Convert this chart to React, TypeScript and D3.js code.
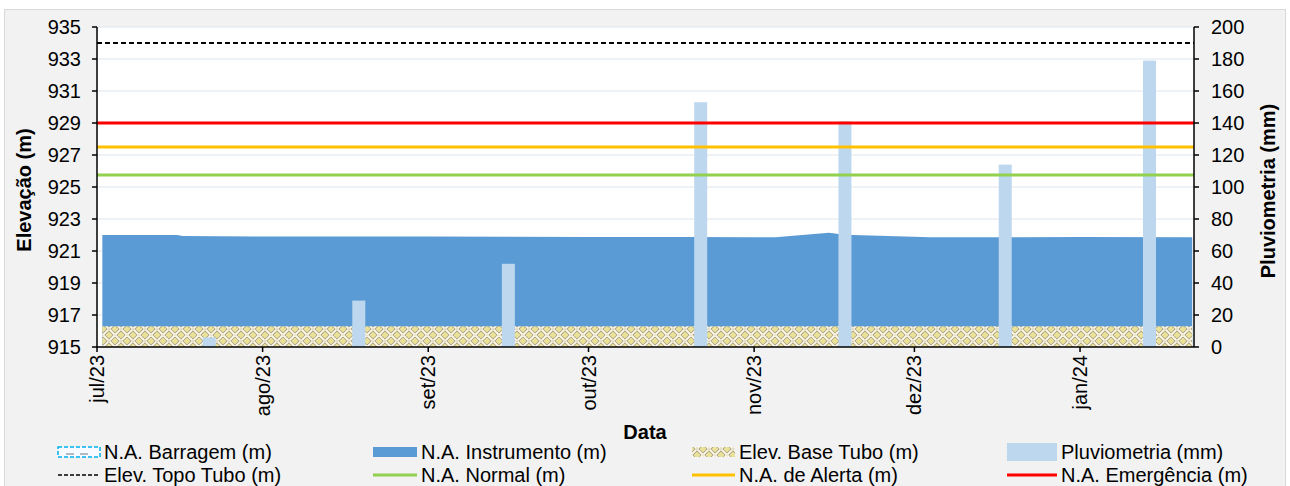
import * as d3 from "d3";
import React from "react";

// N.A. Instrumento readings (m)
const instDates = [
  "2023-07-02", "2023-07-16", "2023-07-17", "2023-08-01", "2023-09-01",
  "2023-10-01", "2023-10-20", "2023-11-01", "2023-11-05", "2023-11-15",
  "2023-11-18", "2023-12-04", "2023-12-20", "2024-01-01", "2024-01-22",
];
const instLevels = [
  922.0, 922.0, 921.93, 921.91, 921.9,
  921.88, 921.87, 921.86, 921.86, 922.14,
  922.02, 921.86, 921.86, 921.87, 921.86,
];

// Pluviometria (mm)
const rainDates = [
  "2023-07-22", "2023-08-19", "2023-09-16", "2023-10-22",
  "2023-11-18", "2023-12-18", "2024-01-14",
];
const rainValues = [6, 29, 52, 153, 141, 114, 179];

const baseTubo = 916.3;
const topoTubo = 934.0;
const naNormal = 925.75;
const naAlerta = 927.5;
const naEmergencia = 929.0;

const monthLabels = ["jul/23", "ago/23", "set/23", "out/23", "nov/23", "dez/23", "jan/24"];

const parse = d3.timeParse("%Y-%m-%d");
const font = "'Liberation Sans', Arial, sans-serif";
const fs = 20;

const App: React.FC = () => {
  const left = 97, right = 1194, top = 27, bottom = 347;

  const x = d3
    .scaleTime()
    .domain([new Date(2023, 6, 1), new Date(2024, 0, 22, 8)])
    .range([left, right]);
  const yL = d3.scaleLinear().domain([915, 935]).range([bottom, top]);
  const yR = d3.scaleLinear().domain([0, 200]).range([bottom, top]);

  const inst = instDates.map((d, i) => ({ date: parse(d) as Date, value: instLevels[i] }));
  const rain = rainDates.map((d, i) => ({ date: parse(d) as Date, value: rainValues[i] }));

  const area = d3
    .area<{ date: Date; value: number }>()
    .x((d) => x(d.date))
    .y0(yL(915))
    .y1((d) => yL(d.value));

  const baseData = [inst[0], inst[inst.length - 1]].map((d) => ({ date: d.date, value: baseTubo }));

  const leftTicks = d3.range(915, 936, 2);
  const rightTicks = d3.range(0, 201, 20);
  const months = d3.timeMonth.range(new Date(2023, 6, 1), new Date(2024, 0, 22));
  const barW = 13;

  const refLines = [
    { v: topoTubo, color: "#000", w: 2, dash: "5,3" },
    { v: naNormal, color: "#92d050", w: 3, dash: null },
    { v: naAlerta, color: "#ffc000", w: 3, dash: null },
    { v: naEmergencia, color: "#ff0000", w: 3, dash: null },
  ];

  const colX = [58, 373, 692, 1007];
  const symW = [42, 44, 43, 50];
  const rowY = [452, 475];
  const legend = [
    { label: "N.A. Barragem (m)", col: 0, row: 0, kind: "dashbox" },
    { label: "N.A. Instrumento (m)", col: 1, row: 0, kind: "rect", color: "#5b9bd5" },
    { label: "Elev. Base Tubo (m)", col: 2, row: 0, kind: "weave" },
    { label: "Pluviometria (mm)", col: 3, row: 0, kind: "tallrect", color: "#bdd7ee" },
    { label: "Elev. Topo Tubo (m)", col: 0, row: 1, kind: "line", color: "#000", dash: "4,2" },
    { label: "N.A. Normal (m)", col: 1, row: 1, kind: "line", color: "#92d050" },
    { label: "N.A. de Alerta (m)", col: 2, row: 1, kind: "line", color: "#ffc000" },
    { label: "N.A. Emergência (m)", col: 3, row: 1, kind: "line", color: "#ff0000" },
  ];

  return (
    <svg
      width={1290}
      height={486}
      style={{ position: "absolute", left: 0, top: 0, fontFamily: font }}
    >
      <defs>
        <pattern id="weave" width="12" height="12" patternUnits="userSpaceOnUse" x={left} y={bottom}>
          <rect width="12" height="12" fill="#ebe29a" />
          <g stroke="#a99d82" strokeWidth="3.4" strokeLinecap="square">
            <path d="M1,5 L5,1 M7,1 L11,5 M1,7 L5,11 M7,11 L11,7" />
          </g>
          <g stroke="#fffbea" strokeWidth="1.8" strokeLinecap="square">
            <path d="M1,5 L5,1 M7,1 L11,5 M1,7 L5,11 M7,11 L11,7" />
          </g>
        </pattern>
      </defs>

      <rect x={0} y={0} width={1290} height={486} fill="#fff" />
      <rect x={4.5} y={9.5} width={1281} height={490} fill="#f2f2f2" stroke="#d9d9d9" />
      <rect x={left} y={top} width={right - left} height={bottom - top} fill="#fff" />

      {/* gridlines */}
      {leftTicks.map((t) => (
        <line key={t} x1={left} x2={right} y1={yL(t)} y2={yL(t)} stroke="#dce6f0" strokeWidth={1} />
      ))}

      {/* N.A. Instrumento */}
      <path d={area(inst) || ""} fill="#5b9bd5" />
      {/* Elev. Base Tubo */}
      <path d={area(baseData) || ""} fill="url(#weave)" />

      {/* Pluviometria */}
      {rain.map((d, i) => (
        <rect
          key={i}
          x={x(d.date) - barW / 2}
          y={yR(d.value)}
          width={barW}
          height={yR(0) - yR(d.value)}
          fill="#bdd7ee"
        />
      ))}

      {/* reference lines */}
      {refLines.map((l, i) => (
        <line
          key={i}
          x1={left}
          x2={right}
          y1={yL(l.v)}
          y2={yL(l.v)}
          stroke={l.color}
          strokeWidth={l.w}
          strokeDasharray={l.dash || undefined}
        />
      ))}

      {/* axes */}
      <line x1={left} x2={left} y1={top} y2={bottom} stroke="#000" strokeWidth={1.5} />
      <line x1={right} x2={right} y1={top} y2={bottom} stroke="#000" strokeWidth={1.5} />
      <line x1={left} x2={right} y1={bottom} y2={bottom} stroke="#000" strokeWidth={1.5} />

      {leftTicks.map((t) => (
        <g key={t}>
          <line x1={left - 5} x2={left} y1={yL(t)} y2={yL(t)} stroke="#000" strokeWidth={1.5} />
          <text x={81} y={yL(t)} dy="0.35em" textAnchor="end" fontSize={fs} fill="#000">
            {t}
          </text>
        </g>
      ))}
      {rightTicks.map((t) => (
        <g key={t}>
          <line x1={right} x2={right + 5} y1={yR(t)} y2={yR(t)} stroke="#000" strokeWidth={1.5} />
          <text x={1211} y={yR(t)} dy="0.35em" textAnchor="start" fontSize={fs} fill="#000">
            {t}
          </text>
        </g>
      ))}
      {months.map((m, i) => (
        <g key={i}>
          <line x1={x(m)} x2={x(m)} y1={bottom} y2={bottom + 5} stroke="#000" strokeWidth={1.5} />
          <text
            transform={`translate(${x(m)},${bottom + 8}) rotate(-90)`}
            dy="0.35em"
            textAnchor="end"
            fontSize={fs}
            fill="#000"
          >
            {monthLabels[i]}
          </text>
        </g>
      ))}

      {/* axis titles */}
      <text
        transform={`translate(24,${(top + bottom) / 2 + 3}) rotate(-90)`}
        dy="0.35em"
        textAnchor="middle"
        fontSize={fs}
        fontWeight="bold"
      >
        Elevação (m)
      </text>
      <text
        transform={`translate(1268,${(top + bottom) / 2 + 4}) rotate(-90)`}
        dy="0.35em"
        textAnchor="middle"
        fontSize={fs}
        fontWeight="bold"
      >
        Pluviometria (mm)
      </text>
      <text x={645} y={432} dy="0.35em" textAnchor="middle" fontSize={fs} fontWeight="bold">
        Data
      </text>

      {/* legend */}
      {legend.map((item, i) => {
        const sx = colX[item.col];
        const sw = symW[item.col];
        const cy = rowY[item.row];
        let sym: React.ReactNode = null;
        if (item.kind === "dashbox") {
          sym = (
            <g>
              <rect x={sx} y={cy - 5} width={sw} height={10} fill="#f7fbff" stroke="#00b0f0" strokeWidth={1.5} strokeDasharray="4,2" />
              <line x1={sx + 8} x2={sx + sw - 6} y1={cy + 2} y2={cy + 2} stroke="#9aa5b0" strokeWidth={1.5} strokeDasharray="8,6" />
            </g>
          );
        } else if (item.kind === "rect") {
          sym = <rect x={sx} y={cy - 5} width={sw} height={10} fill={item.color} />;
        } else if (item.kind === "weave") {
          sym = <rect x={sx} y={cy - 5} width={sw} height={10} fill="url(#weave)" />;
        } else if (item.kind === "tallrect") {
          sym = <rect x={sx} y={cy - 9} width={sw} height={18} fill={item.color} />;
        } else {
          sym = (
            <line
              x1={sx}
              x2={sx + sw}
              y1={cy}
              y2={cy}
              stroke={item.color}
              strokeWidth={item.dash ? 1.5 : 3}
              strokeDasharray={item.dash || undefined}
            />
          );
        }
        return (
          <g key={i}>
            {sym}
            <text x={sx + sw + 4} y={cy} dy="0.35em" fontSize={fs} fill="#000">
              {item.label}
            </text>
          </g>
        );
      })}
    </svg>
  );
};

export default App;
